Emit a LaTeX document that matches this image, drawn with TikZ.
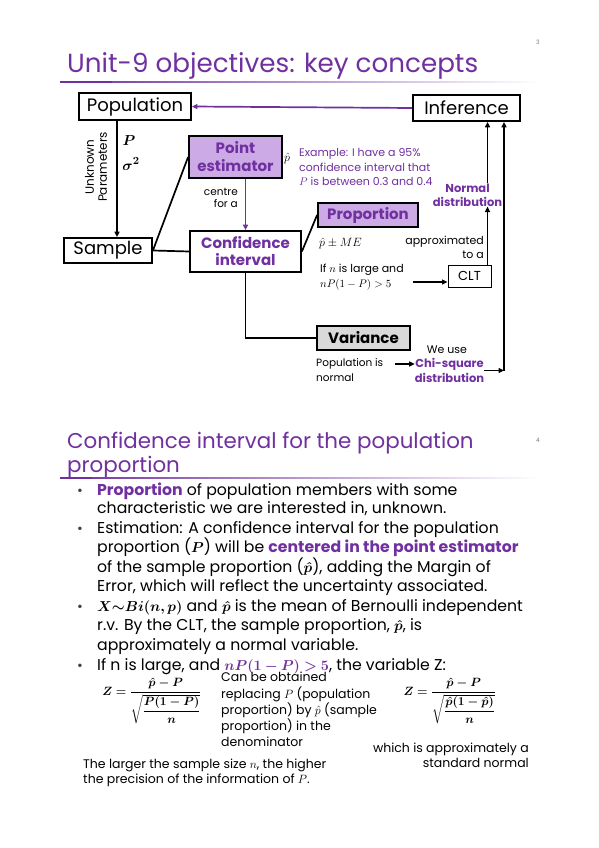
\documentclass[tikz,border=0pt]{standalone}
\usepackage[no-math]{fontspec}
\usepackage{amsmath,bm}
\setmainfont{Poppins}
\usetikzlibrary{arrows.meta,calc}
\definecolor{pur}{RGB}{112,48,160}
\definecolor{lpur}{RGB}{204,170,230}
\definecolor{lgrey}{RGB}{217,217,217}
\newcommand{\myfs}[2]{\fontsize{#1}{#2}\selectfont}
\begin{document}
\begin{tikzpicture}[x=1pt,y=-1pt,
  box/.style={draw,line width=1.8pt,inner sep=0pt,align=center},
  conn/.style={line width=1.7pt},
  arr/.style={conn,-{Triangle[length=5.5pt,width=5pt]}},
  lbl/.style={inner sep=0pt},
  pnum/.style={text=gray,font=\myfs{6}{6}},
  bl/.style={anchor=base west,inner sep=0pt,font=\myfs{15.7}{19}},
  bul/.style={anchor=base,inner sep=0pt,text=darkgray,font=\myfs{14}{14}}]
\useasboundingbox (0,0) rectangle (599,848);
\fill[white] (0,0) rectangle (599,848);
% ---------- slide 1 ----------
\node[pnum] (n3) at (538,42) {3};
\node[anchor=base west,inner sep=0pt,text=pur,font=\myfs{26.2}{26}] (t1) at (67,73) {Unit-9 objectives: key concepts};
\shade[left color=pur,right color=white] (60,81.3) rectangle (540,82.7);
\fill[pur] (60,80.8) rectangle (112,83.2);

\node[box,minimum width=112pt,minimum height=27pt,font=\myfs{18}{18}] (pop) at (135,106.5) {Population};
\node[box,minimum width=107pt,minimum height=26pt,font=\myfs{18}{18}] (inf) at (466.5,108) {Inference};
\node[box,minimum width=88pt,minimum height=25pt,font=\myfs{18}{18}] (sam) at (108,250.5) {Sample};
\node[box,fill=lpur,minimum width=93pt,minimum height=42pt,text=pur,font=\bfseries\myfs{15}{18}] (pe) at (235.5,157) {Point\\estimator};
\node[box,fill=white,minimum width=111pt,minimum height=41pt,text=pur,font=\bfseries\myfs{15}{17}] (ci) at (245.5,251.5) {Confidence\\interval};
\node[box,fill=lpur,minimum width=100pt,minimum height=24pt,text=pur,font=\bfseries\myfs{15}{15}] (prop) at (368,215) {Proportion};
\node[box,fill=lgrey,minimum width=93pt,minimum height=24pt,font=\bfseries\myfs{15}{15}] (var) at (363.5,338) {Variance};
\node[box,line width=1pt,minimum width=43pt,minimum height=22pt,font=\myfs{13}{13}] (clt) at (469.5,276) {CLT};

\node[lbl,rotate=90,align=center,font=\myfs{12}{13}] (unk) at (96,167) {Unknown\\Parameters};
\node[lbl,font=\myfs{15}{15}] (P) at (129,141) {$\bm{P}$};
\node[lbl,font=\myfs{15}{15}] (sig) at (131,164) {$\bm{\sigma^2}$};
\node[lbl,anchor=east,align=right,font=\myfs{10.5}{12}] (cen) at (238,198) {centre\\for a};
\node[lbl,font=\myfs{12}{12}] (phat) at (287,158) {$\hat p$};
\node[lbl,anchor=west,align=left,text=pur,font=\myfs{11}{14.5}] (ex) at (299,167) {Example: I have a 95\%\\confidence interval that\\$P$ is between 0.3 and 0.4};
\node[lbl,align=center,text=pur,font=\bfseries\myfs{11.5}{14}] (nd) at (467.5,195) {Normal\\distribution};
\node[lbl,anchor=west,font=\myfs{12}{12}] (pme) at (319,243) {$\hat p \pm ME$};
\node[lbl,anchor=east,align=right,font=\myfs{11}{14}] (app) at (484,247) {approximated\\to a};
\node[lbl,anchor=west,align=left,font=\myfs{11}{15}] (ifn) at (320,277.5) {If $n$ is large and\\$nP(1-P)>5$};
\node[lbl,anchor=west,align=left,font=\myfs{10.5}{15}] (pin) at (316,370.5) {Population is\\normal};
\node[lbl,font=\myfs{11}{11}] (weuse) at (447,350) {We use};
\node[lbl,align=center,text=pur,font=\bfseries\myfs{11.5}{15}] (chi) at (449.5,370.5) {Chi-square\\distribution};

\draw[arr,pur] (inf.west) -- (pop.east);
\draw[arr] ([xshift=-18pt]pop.south) -- ([xshift=9pt]sam.north);
\draw[conn] (sam.east) -- (pe.west);
\draw[conn] (sam.east) -- (ci.west);
\draw[arr,pur] (ci.north |- pe.south) -- (ci.north);
\draw[conn] (ci.east) -- (prop.west);
\draw[conn] (ci.south) |- (var.west);
\coordinate (clta) at ([yshift=-6pt]clt.west);
\draw[arr] (413,282 |- clta) -- (clta);
\coordinate (n1) at ([xshift=-4pt]clt.north east);
\draw[arr] (n1) -- (n1 |- nd.south);
\draw[arr] (n1 |- nd.north) -- (n1 |- inf.south);
\coordinate (c1) at (504,370.5);
\draw[arr] (chi.east) -- (c1);
\draw[arr] (c1) -- (c1 |- inf.south);
\coordinate (pa) at (395,364);
\draw[arr] (pa) -- (chi.west |- pa);

% ---------- slide 2 ----------
\node[pnum] (n4) at (538,440) {4};
\node[anchor=base west,inner sep=0pt,text=pur,font=\myfs{21.4}{22}] (t2a) at (67,448) {Confidence interval for the population};
\node[anchor=base west,inner sep=0pt,text=pur,font=\myfs{21.4}{22}] (t2b) at (67,472) {proportion};
\shade[left color=pur,right color=white] (60,477.3) rectangle (540,478.7);
\fill[pur] (60,476.8) rectangle (92,479.2);

\node[bul] (b1) at (80,495) {\textbullet};
\node[bl] (l1) at (97,495) {\textcolor{pur}{\bfseries Proportion} of population members with some};
\node[bl] (l2) at (97,513) {characteristic we are interested in, unknown.};
\node[bul] (b2) at (80,533) {\textbullet};
\node[bl] (l3) at (97,533) {Estimation: A confidence interval for the population};
\node[bl] (l4) at (97,552) {proportion ($\bm{P}$) will be \textcolor{pur}{\bfseries centered in the point estimator}};
\node[bl] (l5) at (97,572) {of the sample proportion ($\bm{\hat p}$), adding the Margin of};
\node[bl] (l6) at (97,591) {Error, which will reflect the uncertainty associated.};
\node[bul] (b3) at (80,611) {\textbullet};
\node[bl] (l7) at (97,611) {$\bm{X{\sim}Bi(n,p)}$ and $\bm{\hat p}$ is the mean of Bernoulli independent};
\node[bl] (l8) at (97,630) {r.v. By the CLT, the sample proportion, $\bm{\hat p}$, is};
\node[bl] (l9) at (97,650) {approximately a normal variable.};
\node[bul] (b4) at (80,670) {\textbullet};
\node[bl] (l10) at (97,670) {If n is large, and \textcolor{pur}{$\bm{nP(1-P)>5}$}, the variable Z:};

\node[lbl,font=\myfs{13}{13}] (z1) at (152,701) {$\displaystyle \bm{Z=\frac{\hat p-P}{\sqrt{\dfrac{P(1-P)}{n}}}}$};
\node[lbl,font=\myfs{13}{13}] (z2) at (450,701) {$\displaystyle \bm{Z=\frac{\hat p-P}{\sqrt{\dfrac{\hat p(1-\hat p)}{n}}}}$};
\node[lbl,anchor=north west,align=left,font=\myfs{12.5}{16.3}] (cbo) at (221,672) {Can be obtained\\replacing $P$ (population\\proportion) by $\hat p$ (sample\\proportion) in the\\denominator};
\node[lbl,anchor=north east,align=right,font=\myfs{12.5}{14.5}] (wia) at (529,743) {which is approximately a\\standard normal};
\node[lbl,anchor=north west,align=left,font=\myfs{12.5}{14.5}] (tls) at (83,759) {The larger the sample size $n$, the higher\\the precision of the information of $P$.};
\end{tikzpicture}
\end{document}
